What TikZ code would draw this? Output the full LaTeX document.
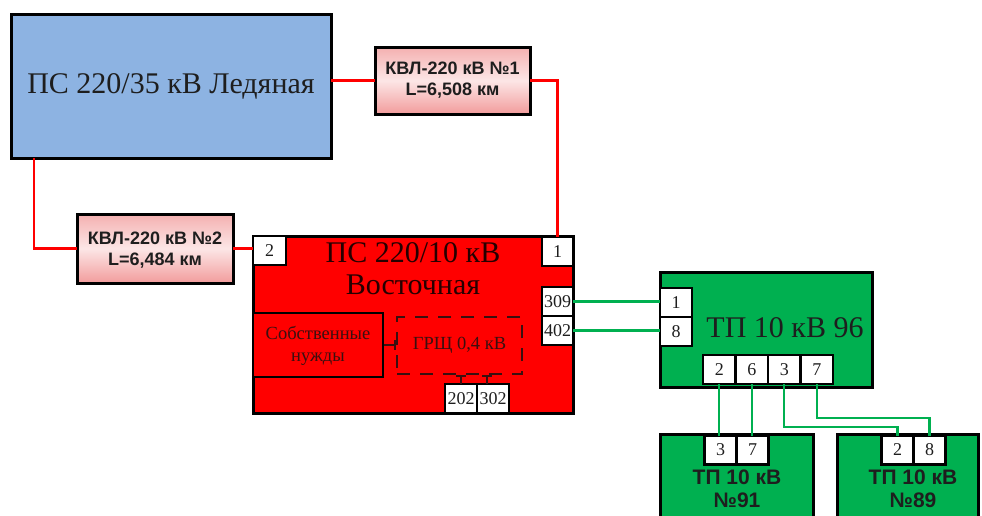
\documentclass[tikz,border=0pt]{standalone}
\usepackage{fontspec}
\setmainfont{Liberation Serif}
\newfontfamily\arialbold[BoldFont={Liberation Sans Bold}]{Liberation Sans}
\usetikzlibrary{arrows.meta}
\definecolor{ledblue}{HTML}{8DB3E2}
\definecolor{vred}{HTML}{FF0000}
\definecolor{tpgreen}{HTML}{00B050}
\definecolor{pinktop}{HTML}{F4B0B0}
\definecolor{pinkmid}{HTML}{FCE6E6}
\definecolor{pinkbot}{HTML}{F29C9C}
\definecolor{txt}{HTML}{1E1E1E}
\definecolor{grschc}{HTML}{3A1010}
\tikzset{
  bigbox/.style={draw=black, line width=3pt, inner sep=0pt, outer sep=0pt},
  kvlbox/.style={bigbox, top color=pinktop, bottom color=pinkbot, middle color=pinkmid, shading angle=0},
  portbox/.style={draw=black, line width=2.6pt, fill=white, inner sep=0pt, outer sep=0pt,
    font=\fontsize{18}{18}\selectfont, text=txt},
  redline/.style={draw=vred, line width=2.2pt},
  greenline/.style={draw=tpgreen, line width=2.2pt},
  serifbig/.style={font=\fontsize{30}{32}\selectfont, text=txt, align=center},
  boldlabel/.style={font=\arialbold\bfseries\fontsize{18}{21}\selectfont, text=txt, align=center},
  tplabel/.style={font=\arialbold\bfseries\fontsize{21}{23}\selectfont, text=txt, align=center},
  smalltxt/.style={font=\fontsize{18.5}{22}\selectfont, text=grschc, align=center}
}
\begin{document}
\begin{tikzpicture}[x=1pt,y=-1pt]
\clip (0,0) rectangle (982,515);
\fill[white] (0,0) rectangle (982,515);

% boxes
\node[bigbox, fill=ledblue, minimum width=320, minimum height=144] (led) at (171,86) {};
\node[serifbig] (ledtxt) at (171,86) {ПС 220/35 кВ Ледяная};

\node[kvlbox, minimum width=155, minimum height=67] (kvl1) at (452.5,80.5) {};
\node[boldlabel] (kvl1txt) at (452.5,80.5) {КВЛ-220 кВ №1\\L=6,508 км};

\node[kvlbox, minimum width=156, minimum height=69] (kvl2) at (155,248.5) {};
\node[boldlabel] (kvl2txt) at (155,250) {КВЛ-220 кВ №2\\L=6,484 км};

\node[bigbox, fill=vred, minimum width=320, minimum height=177] (vost) at (413,324.5) {};
\node[serifbig, text=black!85!red] (vosttxt) at (413,269) {ПС 220/10 кВ\\Восточная};

\node[portbox, minimum width=33, minimum height=29] (p2) at (269.5,250.5) {2};
\node[portbox, minimum width=31, minimum height=29] (p1) at (557.5,251.5) {1};
\node[portbox, minimum width=31, minimum height=29] (p309) at (557.5,301.5) {309};
\node[portbox, minimum width=31, minimum height=29] (p402) at (557.5,330.5) {402};

\node[draw=black, line width=2.6pt, fill=vred, inner sep=0pt, minimum width=130, minimum height=64] (sn) at (318,345) {};
\node[smalltxt] (sntxt) at (318,346) {Собственные\\нужды};

\node[draw=grschc, line width=2.2pt, dash pattern=on 13pt off 10pt, inner sep=0pt, minimum width=125, minimum height=57] (grsch) at (459.5,345.5) {};
\node[smalltxt] (grschtxt) at (459.5,345.5) {ГРЩ 0,4 кВ};

\node[portbox, minimum width=32, minimum height=29] (p202) at (461,398.5) {202};
\node[portbox, minimum width=32, minimum height=29] (p302) at (493,398.5) {302};

% internal ticks
\draw[draw=grschc, line width=2pt, -{Bar[width=10pt,line width=2pt]}] (sn.east) -- (sn.east -| grsch.west);
\draw[draw=grschc, line width=2pt, -{Bar[width=10pt,line width=2pt]}] (p202.north) -- (p202.north |- grsch.south);
\coordinate (p302t) at ([xshift=10pt]p302.north west);
\draw[draw=grschc, line width=2pt, -{Bar[width=10pt,line width=2pt]}] (p302t) -- (p302t |- grsch.south);

% TP 96
\node[bigbox, fill=tpgreen, minimum width=212, minimum height=115] (tp96) at (766,329.5) {};
\node[serifbig] (tp96txt) at (785,328) {ТП 10 кВ 96};
\node[portbox, minimum width=32, minimum height=29] (t1) at (676,302.5) {1};
\node[portbox, minimum width=32, minimum height=29] (t8) at (676,331.5) {8};
\node[portbox, minimum width=32.5, minimum height=29] (b2) at (719.25,369.5) {2};
\node[portbox, minimum width=32.5, minimum height=29] (b6) at (751.75,369.5) {6};
\node[portbox, minimum width=32.5, minimum height=29] (b3) at (784.25,369.5) {3};
\node[portbox, minimum width=32.5, minimum height=29] (b7) at (816.75,369.5) {7};

% TP 91
\node[bigbox, fill=tpgreen, minimum width=153, minimum height=95] (tp91) at (736.5,481.5) {};
\node[portbox, minimum width=32, minimum height=29] (c3) at (720.5,450) {3};
\node[portbox, minimum width=32, minimum height=29] (c7) at (752.5,450) {7};
\node[tplabel] (tp91txt) at (737,488.5) {ТП 10 кВ\\№91};

% TP 89
\node[bigbox, fill=tpgreen, minimum width=141, minimum height=95] (tp89) at (907.5,481.5) {};
\node[portbox, minimum width=32, minimum height=29] (d2) at (897.5,450) {2};
\node[portbox, minimum width=32, minimum height=29] (d8) at (929.5,450) {8};
\node[tplabel] (tp89txt) at (913,488.5) {ТП 10 кВ\\№89};

% red connectors
\draw[redline] (led.east |- kvl1.west) -- (kvl1.west);
\draw[redline] (kvl1.east) -| (p1.north);
\draw[redline] ([xshift=23pt]led.south west) |- (kvl2.west);
\draw[redline] (kvl2.east) -- (kvl2.east -| p2.west);

% green connectors
\draw[greenline] (p309.east) -- (p309.east -| t1.west);
\draw[greenline] (p402.east) -- (p402.east -| t8.west);
\draw[greenline] (b2.south) -- (b2.south |- c3.north);
\draw[greenline] (b6.south) -- (b6.south |- c7.north);
\draw[greenline] (b3.south) -- ++(0,43) -| (d2.north);
\draw[greenline] (b7.south) -- ++(0,34) -| (d8.north);
\end{tikzpicture}
\end{document}
